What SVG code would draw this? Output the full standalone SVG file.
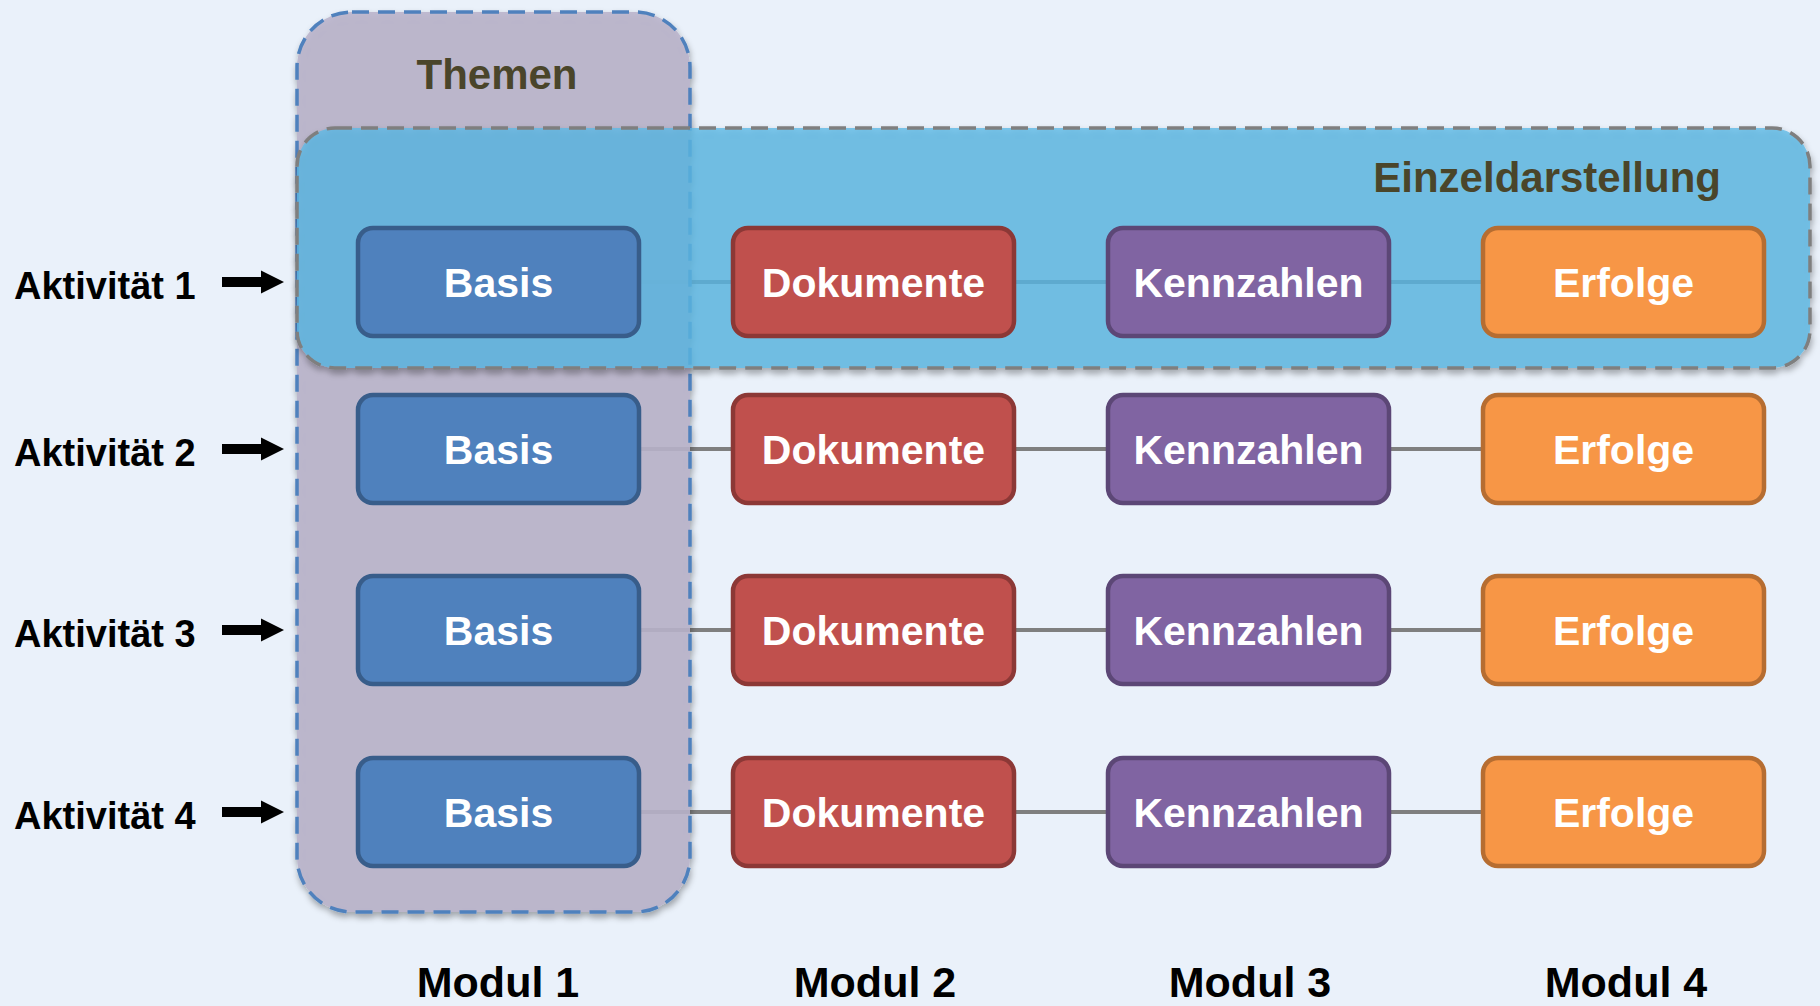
<svg xmlns="http://www.w3.org/2000/svg" xmlns:xlink="http://www.w3.org/1999/xlink" width="1820" height="1006" viewBox="0 0 1820 1006">
<defs>
<style>
.lbl{font-family:"Liberation Sans",Arial,sans-serif;font-weight:bold;}
.node text{fill:#FFFFFF;font-size:41px;text-anchor:middle;}
.act{fill:#000000;font-size:38px;}
.mod{fill:#000000;font-size:43px;text-anchor:middle;}
.title{fill:#4A452A;font-size:42px;}
.basis rect{fill:#4F81BD;stroke:#385D8A;}
.doku rect{fill:#C0504D;stroke:#8C3836;}
.kenn rect{fill:#8064A2;stroke:#5C4776;}
.erf rect{fill:#F79646;stroke:#B66D31;}
.node rect{stroke-width:4.5;}
.conn line{stroke:#7F7F7F;stroke-width:4;}
</style>
<filter id="sh" x="-5%" y="-5%" width="110%" height="115%">
<feDropShadow dx="1" dy="4" stdDeviation="3" flood-color="#000000" flood-opacity="0.35"/>
</filter>
<path id="arr" d="M0,-5 H39 V-11.5 L62,0 L39,11.5 V5 H0 Z" fill="#000000"/>
</defs>
<rect x="0" y="0" width="1820" height="1006" fill="#EAF1FA"/>

<g id="connectors" class="conn">
<line x1="641" y1="282" x2="731" y2="282"/><line x1="1016" y1="282" x2="1106" y2="282"/><line x1="1391" y1="282" x2="1481" y2="282"/>
<line x1="641" y1="449" x2="731" y2="449"/><line x1="1016" y1="449" x2="1106" y2="449"/><line x1="1391" y1="449" x2="1481" y2="449"/>
<line x1="641" y1="630" x2="731" y2="630"/><line x1="1016" y1="630" x2="1106" y2="630"/><line x1="1391" y1="630" x2="1481" y2="630"/>
<line x1="641" y1="812" x2="731" y2="812"/><line x1="1016" y1="812" x2="1106" y2="812"/><line x1="1391" y1="812" x2="1481" y2="812"/>
</g>

<g id="themen">
<rect x="297" y="12" width="393" height="900" rx="55" fill="#BAB3CB" fill-opacity="0.88" stroke="#4F81BD" stroke-width="3.5" stroke-dasharray="17 9" filter="url(#sh)"/>
<text class="lbl title" x="497" y="89" text-anchor="middle">Themen</text>
</g>

<g id="einzeldarstellung">
<rect x="297" y="128" width="1513" height="240" rx="38" fill="#5CB8E6" fill-opacity="0.78" stroke="#7F7F7F" stroke-width="3.5" stroke-dasharray="17 9" filter="url(#sh)"/>
<text class="lbl title" x="1721" y="192" text-anchor="end" font-size="44">Einzeldarstellung</text>
</g>

<g id="aktivitaeten">
<g id="akt1"><text class="lbl act" x="14" y="299">Aktivität 1</text><use xlink:href="#arr" x="222" y="282"/></g>
<g id="akt2"><text class="lbl act" x="14" y="466">Aktivität 2</text><use xlink:href="#arr" x="222" y="449"/></g>
<g id="akt3"><text class="lbl act" x="14" y="647">Aktivität 3</text><use xlink:href="#arr" x="222" y="630"/></g>
<g id="akt4"><text class="lbl act" x="14" y="829">Aktivität 4</text><use xlink:href="#arr" x="222" y="812"/></g>
</g>

<g id="basis1" class="node basis"><rect x="358" y="228" width="281" height="108" rx="15"/><text class="lbl" x="498.5" y="297">Basis</text></g>
<g id="doku1" class="node doku"><rect x="733" y="228" width="281" height="108" rx="15"/><text class="lbl" x="873.5" y="297">Dokumente</text></g>
<g id="kenn1" class="node kenn"><rect x="1108" y="228" width="281" height="108" rx="15"/><text class="lbl" x="1248.5" y="297">Kennzahlen</text></g>
<g id="erf1" class="node erf"><rect x="1483" y="228" width="281" height="108" rx="15"/><text class="lbl" x="1623.5" y="297">Erfolge</text></g>

<g id="basis2" class="node basis"><rect x="358" y="395" width="281" height="108" rx="15"/><text class="lbl" x="498.5" y="464">Basis</text></g>
<g id="doku2" class="node doku"><rect x="733" y="395" width="281" height="108" rx="15"/><text class="lbl" x="873.5" y="464">Dokumente</text></g>
<g id="kenn2" class="node kenn"><rect x="1108" y="395" width="281" height="108" rx="15"/><text class="lbl" x="1248.5" y="464">Kennzahlen</text></g>
<g id="erf2" class="node erf"><rect x="1483" y="395" width="281" height="108" rx="15"/><text class="lbl" x="1623.5" y="464">Erfolge</text></g>

<g id="basis3" class="node basis"><rect x="358" y="576" width="281" height="108" rx="15"/><text class="lbl" x="498.5" y="645">Basis</text></g>
<g id="doku3" class="node doku"><rect x="733" y="576" width="281" height="108" rx="15"/><text class="lbl" x="873.5" y="645">Dokumente</text></g>
<g id="kenn3" class="node kenn"><rect x="1108" y="576" width="281" height="108" rx="15"/><text class="lbl" x="1248.5" y="645">Kennzahlen</text></g>
<g id="erf3" class="node erf"><rect x="1483" y="576" width="281" height="108" rx="15"/><text class="lbl" x="1623.5" y="645">Erfolge</text></g>

<g id="basis4" class="node basis"><rect x="358" y="758" width="281" height="108" rx="15"/><text class="lbl" x="498.5" y="827">Basis</text></g>
<g id="doku4" class="node doku"><rect x="733" y="758" width="281" height="108" rx="15"/><text class="lbl" x="873.5" y="827">Dokumente</text></g>
<g id="kenn4" class="node kenn"><rect x="1108" y="758" width="281" height="108" rx="15"/><text class="lbl" x="1248.5" y="827">Kennzahlen</text></g>
<g id="erf4" class="node erf"><rect x="1483" y="758" width="281" height="108" rx="15"/><text class="lbl" x="1623.5" y="827">Erfolge</text></g>

<g id="module">
<text class="lbl mod" x="498" y="997">Modul 1</text>
<text class="lbl mod" x="875" y="997">Modul 2</text>
<text class="lbl mod" x="1250" y="997">Modul 3</text>
<text class="lbl mod" x="1626" y="997">Modul 4</text>
</g>
</svg>
